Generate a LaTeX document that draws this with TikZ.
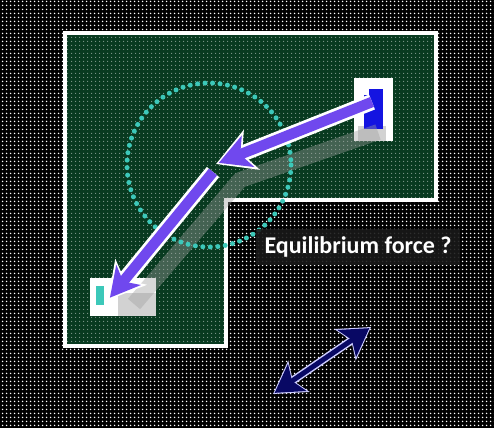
\documentclass[tikz,border=0pt]{standalone}
\usepackage{fontspec}
\setmainfont{Carlito}
\usetikzlibrary{arrows.meta,patterns.meta}

\definecolor{roomgreen}{RGB}{8,58,32}
\definecolor{forceviolet}{RGB}{112,72,238}
\definecolor{anchorblue}{RGB}{20,20,225}
\definecolor{ringcyan}{RGB}{60,200,185}
\definecolor{navyarrow}{RGB}{8,8,100}

\begin{document}
\begin{tikzpicture}[x=1pt,y=-1pt,
    dotgrid/.style={pattern={Dots[distance=4pt,radius=0.95pt]}, pattern color=white!85},
    room/.style={draw=white, line width=3.5pt},
    halo/.style={white, line width=16pt},
    force/.style={forceviolet, line width=10.5pt, shorten >=3pt},
    shade/.style={gray!75, line width=16pt, opacity=0.4},
    ring/.style={ringcyan, line width=5pt, line cap=round, dash pattern=on 0pt off 7.5pt},
    label/.style={fill=black!90, fill opacity=0.9, text opacity=1, text=white!82, font=\bfseries\fontsize{24}{28}\selectfont, inner xsep=9pt, inner ysep=8pt}
]
\useasboundingbox (0,0) rectangle (494,428);
% background
\fill[black] (0,0) rectangle (494,428);
\fill[dotgrid] (0,0) rectangle (494,428);

% L-shaped room
\fill[roomgreen] (65,33) -- (436,33) -- (436,200) -- (226,200) -- (226,346) -- (65,346) -- cycle;
\fill[pattern={Dots[distance=4pt,radius=0.75pt]}, pattern color=white!50!roomgreen] (65,33) -- (436,33) -- (436,200) -- (226,200) -- (226,346) -- (65,346) -- cycle;
\draw[room] (65,33) -- (436,33) -- (436,200) -- (226,200) -- (226,346) -- (65,346) -- cycle;

% anchors
\fill[white] (354,78) rectangle (393,141);
\fill[gray!35] (358,126) rectangle (386,141);
\fill[anchorblue] (364,89) rectangle (383,129);
\fill[white] (364,89) rectangle (369,95);
\fill[white] (90,278) rectangle (156,316);
\fill[gray!35] (118,293) rectangle (156,316);
\fill[ringcyan] (96,286) rectangle (104,305);

\coordinate (top) at (372,102);
\coordinate (bend) at (216,164);
\coordinate (kink) at (213,172);
\coordinate (foot) at (108,300);

% shadow of the force
\draw[shade, line join=round] (378,132) -- (240,180) -- (134,304);

% circle of influence
\draw[ring] (209,165) circle (82);

% force arrows
\draw[halo, -{Stealth[length=38pt,width=42pt,inset=10pt]}] (top) -- (bend);
\draw[force, -{Stealth[length=31pt,width=33pt,inset=8pt]}] (top) -- (bend);
\draw[halo, -{Stealth[length=36pt,width=40pt,inset=10pt]}] (kink) -- (foot);
\draw[force, -{Stealth[length=29pt,width=31pt,inset=8pt]}] (kink) -- (foot);

% question
\node[label] (question) at (358,247) {Equilibrium force ?};

% double arrow
\coordinate (left) at (273,394);
\coordinate (right) at (371,327);
\draw[white!80!blue, line width=8pt, {Stealth[length=31pt,width=37pt,inset=7pt]}-{Stealth[length=31pt,width=37pt,inset=7pt]}] (left) -- (right);
\draw[navyarrow, line width=5pt, shorten <=2pt, shorten >=2pt, {Stealth[length=27pt,width=32pt,inset=6pt]}-{Stealth[length=27pt,width=32pt,inset=6pt]}] (left) -- (right);
\end{tikzpicture}
\end{document}
